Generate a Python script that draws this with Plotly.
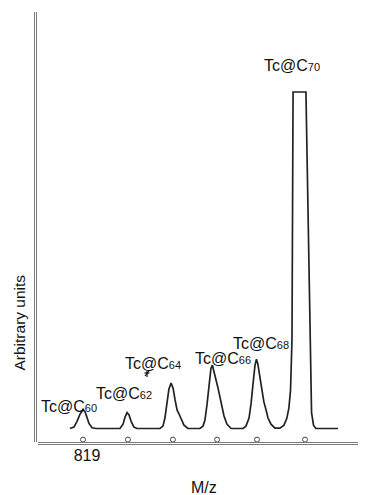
import plotly.graph_objects as go

# ---- data ----
mz = [811.8, 814.0, 815.7, 817.3, 819.0, 820.1, 821.2, 822.3, 824.0, 826.2,
      839.4, 841.1, 842.2, 843.3, 844.4, 845.5, 847.1, 848.8,
      861.5, 863.1, 864.2, 865.3, 866.4, 867.6, 868.7, 869.8, 870.9, 872.0, 873.1, 874.7, 876.9,
      883.5, 885.2, 886.3, 887.4, 888.5, 889.6, 890.4, 891.2, 892.4, 893.5, 894.6, 895.7, 896.8, 898.4, 900.7,
      907.3, 908.9, 910.6, 911.7, 912.8, 913.9, 914.7, 915.5, 916.6, 917.7, 918.8, 920.0, 921.1, 922.7, 924.9,
      927.7, 929.9, 931.5, 932.6, 933.5, 934.3, 934.9, 942.0, 945.1, 946.2, 947.5, 959.7]
intensity = [0, 0.4, 2.1, 4.2, 5.6, 5.0, 3.3, 1.5, 0.2, 0,
             0, 1.3, 3.4, 4.7, 4.0, 2.2, 0.4, 0,
             0, 0.7, 3.1, 7.6, 11.7, 13.5, 12.0, 8.5, 5.5, 4.3, 2.8, 1.0, 0,
             0, 0.7, 2.5, 7.0, 13.2, 17.9, 18.8, 17.3, 14.4, 12.0, 9.1, 6.1, 3.7, 1.3, 0,
             0, 0.7, 3.1, 7.3, 13.2, 18.8, 20.6, 19.1, 15.3, 10.8, 7.9, 5.5, 3.1, 1.3, 0.1,
             0.1, 1.0, 3.1, 6.1, 11.4, 26.2, 100, 100, 4.7, 0.9, 0, 0]

marker_mz = [819.0, 843.8, 868.6, 893.0, 915.0, 941.5]
marker_level = -3.3

species = ["60", "62", "64", "66", "68", "70"]
tick_vals = [819]
tick_text = ["819"]

# ---- geometry (page pixels; the page body has an 8px margin) ----
OFF = 8
W, H = 366 - OFF, 495 - OFF
L, T = 36 - OFF, 12 - OFF
PW, PH = 330, 432
X0, KX = 793.07, 1.8125
Y_BASE, KY = 428.5, 3.365
x_range = [X0, X0 + PW / KX]
y_range = [-(12 + PH - Y_BASE) / KY, (Y_BASE - 12) / KY]


def px(x):  # page x -> paper
    return (x - 36) / PW


def py(y):  # page y -> paper
    return (12 + PH - y) / PH


FONT = "Liberation Sans, Arial, sans-serif"
TXT = "#111111"

fig = go.Figure()
fig.add_trace(go.Scatter(x=mz, y=intensity, mode="lines",
                         line=dict(color="#222222", width=1.7),
                         hoverinfo="skip", showlegend=False))
fig.add_trace(go.Scatter(x=marker_mz, y=[marker_level] * len(marker_mz), mode="markers",
                         marker=dict(symbol="circle-open", size=5, color="#444",
                                     line=dict(width=1, color="#444")),
                         cliponaxis=False, hoverinfo="skip", showlegend=False))

label_pos = [(69, 406), (124, 393), (153, 363), (223, 358), (261, 343), (292, 65)]
annotations = []
for s, (lx, ly) in zip(species, label_pos):
    annotations.append(dict(
        x=px(lx), y=py(ly), xref="paper", yref="paper",
        text="Tc@C<span style='font-size:11px'>" + s + "</span>",
        showarrow=False, xanchor="center", yanchor="middle",
        font=dict(family=FONT, size=16, color=TXT)))
annotations.append(dict(x=px(18.5), y=py(323), xref="paper", yref="paper",
                        text="Arbitrary units", textangle=-90, showarrow=False,
                        xanchor="center", yanchor="middle",
                        font=dict(family=FONT, size=15.5, color=TXT)))
annotations.append(dict(x=px(204), y=py(487), xref="paper", yref="paper",
                        text="M/z", showarrow=False, xanchor="center", yanchor="middle",
                        font=dict(family=FONT, size=16, color=TXT)))

shapes = []
axis_col = "#7a7a7a"
for xx in (34.5, 36.5):
    shapes.append(dict(type="line", xref="paper", yref="paper",
                       x0=px(xx), x1=px(xx), y0=py(442), y1=py(12),
                       line=dict(color=axis_col, width=1)))
for yy in (442.5, 444.5):
    shapes.append(dict(type="line", xref="paper", yref="paper",
                       x0=px(38), x1=1, y0=py(yy), y1=py(yy),
                       line=dict(color=axis_col, width=1)))
# small star-like mark under the "@" of Tc@C64
for (ax0, ay0, ax1, ay1) in [(147, 371, 147, 377), (144.5, 373, 149.5, 373), (145, 376, 149, 371)]:
    shapes.append(dict(type="line", xref="paper", yref="paper",
                       x0=px(ax0), x1=px(ax1), y0=py(ay0), y1=py(ay1),
                       line=dict(color=TXT, width=1.2)))

fig.update_layout(
    width=W, height=H,
    margin=dict(l=L, r=W - L - PW, t=T, b=H - T - PH, pad=0),
    paper_bgcolor="white", plot_bgcolor="white",
    xaxis=dict(range=x_range, showgrid=False, zeroline=False, showline=False,
               tickmode="array", tickvals=tick_vals, ticktext=tick_text,
               ticks="", ticklabelstandoff=0, ticklabelshift=4,
               tickfont=dict(family=FONT, size=16, color=TXT)),
    yaxis=dict(range=y_range, showgrid=False, zeroline=False, showline=False,
               showticklabels=False, ticks=""),
    annotations=annotations, shapes=shapes,
)

fig.write_html("out.html")
